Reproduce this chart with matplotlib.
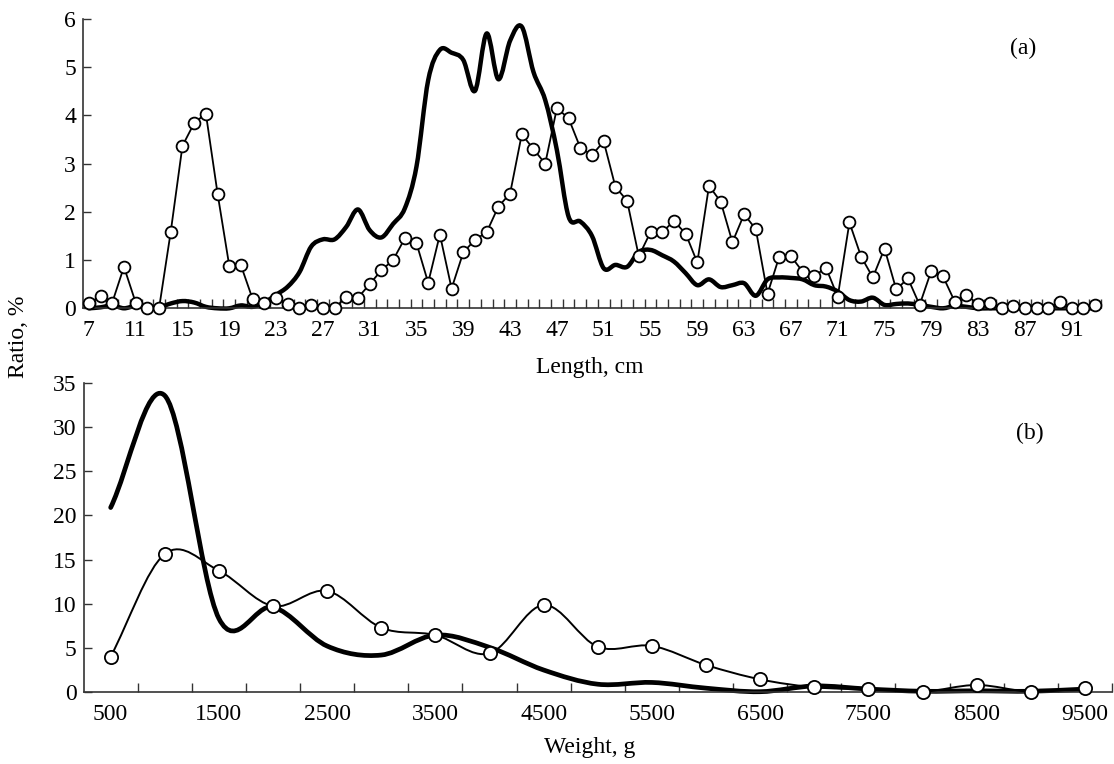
import numpy as np
import matplotlib
matplotlib.use("Agg")
from matplotlib import pyplot as plt
from matplotlib.path import Path
from matplotlib.patches import PathPatch

plt.rcParams['font.family'] = ['Liberation Serif', 'DejaVu Serif']
plt.rcParams['font.size'] = 17

# (a) length distribution, % per 1 cm class
length_cm = list(range(7, 94))
length_open = [0.10, 0.26, 0.12, 0.86, 0.12, 0.0, 0.0, 1.59, 3.37, 3.84,
               4.04, 2.38, 0.88, 0.89, 0.19, 0.10, 0.21, 0.09, 0.0, 0.07,
               0.0, 0.0, 0.24, 0.22, 0.50, 0.79, 1.0, 1.45, 1.35, 0.53,
               1.53, 0.41, 1.16, 1.42, 1.58, 2.11, 2.38, 3.61, 3.30, 3.0,
               4.15, 3.94, 3.33, 3.18, 3.46, 2.52, 2.23, 1.08, 1.58, 1.58,
               1.81, 1.55, 0.95, 2.54, 2.21, 1.37, 1.95, 1.64, 0.30, 1.07,
               1.08, 0.76, 0.67, 0.84, 0.24, 1.78, 1.07, 0.64, 1.24, 0.39,
               0.62, 0.07, 0.78, 0.66, 0.14, 0.28, 0.08, 0.12, 0.0, 0.05,
               0.0, 0.0, 0.0, 0.14, 0.0, 0.0, 0.07]
length_bold = [0.0, 0.02, 0.06, 0.0, 0.05, 0.02, 0.02, 0.10, 0.15, 0.12,
               0.03, 0.0, 0.0, 0.06, 0.03, 0.12, 0.28, 0.45, 0.75, 1.28,
               1.43, 1.43, 1.69, 2.05, 1.62, 1.47, 1.75, 2.07, 2.94, 4.73,
               5.36, 5.30, 5.15, 4.51, 5.70, 4.75, 5.55, 5.84, 4.90, 4.32,
               3.28, 1.90, 1.80, 1.50, 0.83, 0.90, 0.86, 1.17, 1.21, 1.10,
               0.97, 0.73, 0.48, 0.60, 0.44, 0.48, 0.52, 0.26, 0.60, 0.64,
               0.63, 0.60, 0.48, 0.45, 0.35, 0.17, 0.14, 0.22, 0.07, 0.09,
               0.10, 0.07, 0.03, 0.0, 0.05, 0.03, 0.0, 0.0, 0.0, 0.0,
               0.0, 0.0, 0.0, 0.0, 0.0, 0.0, 0.0]

# (b) weight distribution, % per 500 g class
weight_g = list(range(500, 10000, 500))
weight_open = [3.97, 15.63, 13.73, 9.72, 11.43, 7.26, 6.43, 4.35, 9.84, 5.1,
               5.2, 3.03, 1.4, 0.5, 0.27, 0.0, 0.76, 0.0, 0.38]
weight_bold = [20.9, 33.6, 8.3, 9.6, 5.18, 4.16, 6.43, 5.03, 2.46, 0.85,
               1.05, 0.4, 0.0, 0.65, 0.3, 0.05, 0.1, 0.05, 0.3]


def smooth_curve(xs, ys):
    # Catmull-Rom style cubic Bezier through the data points
    x = np.asarray(xs, float)
    y = np.asarray(ys, float)
    m = np.empty_like(y)
    m[1:-1] = (y[2:] - y[:-2]) / (x[2:] - x[:-2])
    m[0] = (y[1] - y[0]) / (x[1] - x[0])
    m[-1] = (y[-1] - y[-2]) / (x[-1] - x[-2])
    verts = [(x[0], y[0])]
    codes = [Path.MOVETO]
    for i in range(len(x) - 1):
        h = x[i + 1] - x[i]
        verts += [(x[i] + h / 3, y[i] + m[i] * h / 3),
                  (x[i + 1] - h / 3, y[i + 1] - m[i + 1] * h / 3),
                  (x[i + 1], y[i + 1])]
        codes += [Path.CURVE4] * 3
    return Path(verts, codes)


def style_axes(ax):
    for s in ('top', 'right'):
        ax.spines[s].set_visible(False)
    for s in ('left', 'bottom'):
        ax.spines[s].set_color('#333333')
        ax.spines[s].set_linewidth(1.2)
    ax.tick_params(axis='x', which='major', length=0, pad=8.5)
    ax.tick_params(axis='x', which='minor', direction='in', length=6.5,
                   width=1, color='#333333')
    ax.tick_params(axis='y', direction='in', length=6, width=1,
                   color='#333333', pad=5)


W, H = 1114, 764
fig = plt.figure(figsize=(W / 100, H / 100), dpi=100)

# top panel
ax1 = fig.add_axes([83 / W, 1 - 308.3 / H, (1101 - 83) / W, (308.3 - 19) / H])
ax1.add_patch(PathPatch(smooth_curve(length_cm, length_bold), fill=False,
                        lw=3.2, ec='black', capstyle='round',
                        joinstyle='round', clip_on=False, zorder=2))
ax1.plot(length_cm, length_open, color='black', lw=1.3, marker='o',
         markersize=8.5, markerfacecolor='white', markeredgecolor='black',
         markeredgewidth=1.3, clip_on=False, zorder=3)
ax1.set_xlim(6.5, 93.5)
ax1.set_ylim(0, 6)
ax1.set_xticks(np.arange(7, 92, 4))
ax1.set_xticks(np.arange(7.5, 93.6, 1), minor=True)
ax1.set_yticks(range(0, 7))
style_axes(ax1)

# bottom panel
ax2 = fig.add_axes([83.6 / W, 1 - 691.7 / H, (1112 - 83.6) / W, (691.7 - 383.3) / H])
ax2.add_patch(PathPatch(smooth_curve(weight_g, weight_bold), fill=False,
                        lw=3.4, ec='black', capstyle='round',
                        joinstyle='round', clip_on=False, zorder=2))
ax2.add_patch(PathPatch(smooth_curve(weight_g, weight_open), fill=False,
                        lw=1.4, ec='black', clip_on=False, zorder=3))
ax2.plot(weight_g, weight_open, linestyle='none', marker='o',
         markersize=9.5, markerfacecolor='white', markeredgecolor='black',
         markeredgewidth=1.3, clip_on=False, zorder=4)
ax2.set_xlim(250, 9750)
ax2.set_ylim(0, 35)
ax2.set_xticks(np.arange(500, 9600, 1000))
ax2.set_xticks(np.arange(750, 9800, 500), minor=True)
ax2.set_yticks(range(0, 36, 5))
style_axes(ax2)

fig.text(590 / W, 1 - 373 / H, 'Length, cm', ha='center', va='baseline')
fig.text(590 / W, 1 - 753 / H, 'Weight, g', ha='center', va='baseline')
fig.text(19 / W, 1 - 337 / H, 'Ratio, %', rotation=90, ha='center', va='center')
fig.text(1023 / W, 1 - 48 / H, '(a)', ha='center', va='center')
fig.text(1030 / W, 1 - 433 / H, '(b)', ha='center', va='center')

fig.savefig('out.png', dpi=100)
